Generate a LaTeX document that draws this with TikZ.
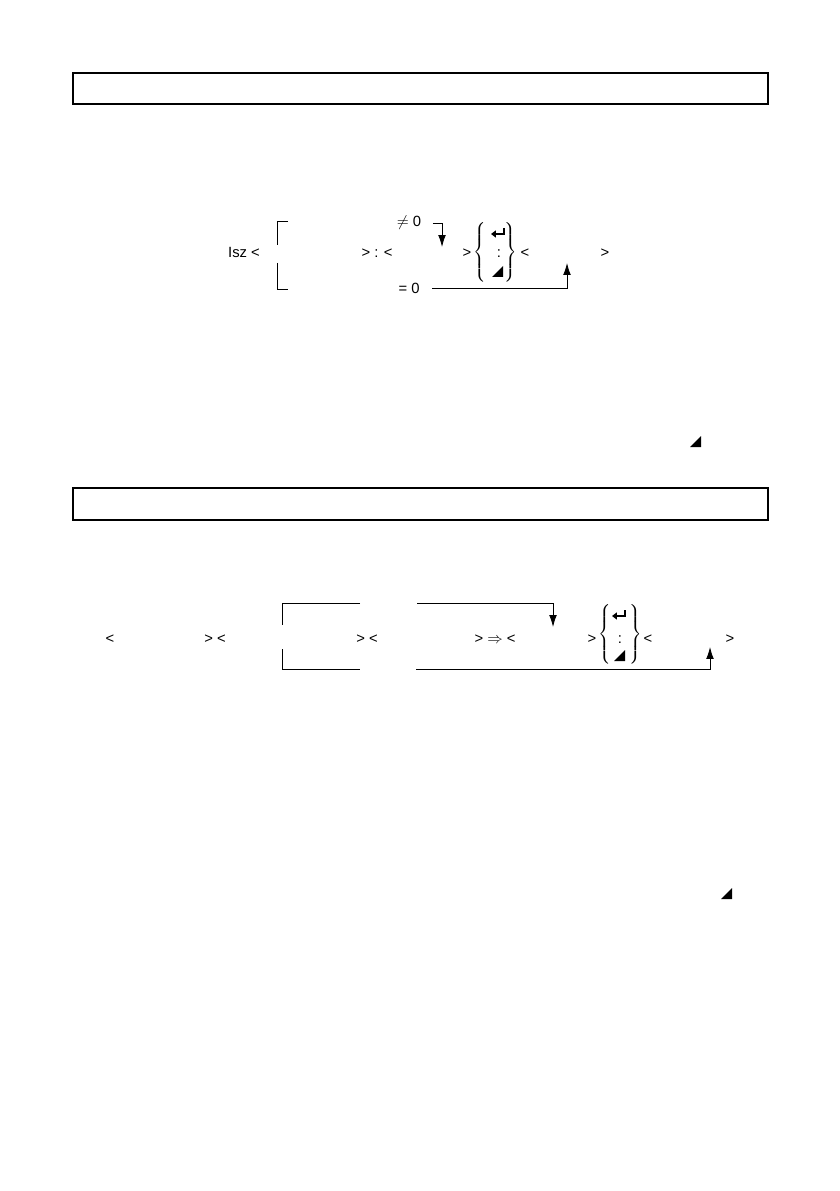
\documentclass[tikz,border=0pt]{standalone}
\usepackage{fontspec}
\setmainfont{Liberation Sans}
\usetikzlibrary{arrows.meta}

\begin{document}
\begin{tikzpicture}[x=0.709pt,y=-0.709pt]
			\tikzstyle{Word}	= [inner sep=0pt, anchor=base, font=\fontsize{10.5}{12}\selectfont]
			\tikzstyle{Brace}	= [inner sep=0pt, anchor=center]
			\tikzstyle{Frame}	= [line width=1.8pt]
			\tikzstyle{Line}	= [line width=0.6pt]
			\tikzstyle{Jump}	= [Line, -{Latex[length=8.5pt,width=5.5pt]}]
			\tikzstyle{Key}		= [line width=1.4pt, -{Triangle[length=3.5pt,width=5pt]}]

			\useasboundingbox (0,0) rectangle (839,1191);

			% title frames
			\draw [Frame] (73,73) rectangle (768,104);
			\draw [Frame] (73,488) rectangle (768,520);

			% first syntax line
			\node (isz) at (244,258) [Word] {Isz <};
			\node (ga) at (377,258) [Word] {> : <};
			\node (ne) at (409,227) [Word] {$\neq$ 0};
			\node (eq) at (409,294) [Word] {= 0};
			\node (gb) at (467,258) [Word] {>};
			\node (la) at (525,258) [Word] {<};
			\node (gc) at (605,258) [Word] {>};
			\node (lbra) at (481,252.5) [Brace] {$\left\{\rule[-19pt]{0pt}{38pt}\right.$};
			\node (rbra) at (510,252.5) [Brace] {$\left.\rule[-19pt]{0pt}{38pt}\right\}$};
			\node (cola) at (499,258) [Word] {:};
			\draw [Line] (288,221) -- (277,221) -- (277,245);
			\draw [Line] (277,263) -- (277,289) -- (288,289);
			\coordinate (nea) at (442,247);
			\coordinate (eqa) at (567,263);
			\draw [Jump] ([xshift=8pt]ne.east) -| (nea);
			\draw [Jump] ([xshift=9pt]eq.east) -| (eqa);

			% second syntax line
			\node (lb) at (110,643) [Word] {<};
			\node (gd) at (215,643) [Word] {> <};
			\node (ge) at (367,643) [Word] {> <};
			\node (gf) at (495,643) [Word] {> $\Rightarrow$ <};
			\node (gg) at (592,643) [Word] {>};
			\node (lc) at (648,643) [Word] {<};
			\node (gh) at (730,643) [Word] {>};
			\node (lbrb) at (606,634.5) [Brace] {$\left\{\rule[-19pt]{0pt}{38pt}\right.$};
			\node (rbrb) at (635,634.5) [Brace] {$\left.\rule[-19pt]{0pt}{38pt}\right\}$};
			\node (colb) at (620,643) [Word] {:};
			\draw [Line] (360,603) -- (282,603) -- (282,625);
			\draw [Line] (282,649) -- (282,669) -- (360,669);
			\coordinate (upa) at (417,603);
			\coordinate (upb) at (553,627);
			\coordinate (dna) at (416,669);
			\coordinate (dnb) at (710,647);
			\draw [Jump] (upa) -| (upb);
			\draw [Jump] (dna) -| (dnb);

			% keys: return and display
			\foreach \x/\y in {499/232, 620/614}
				\draw [Key] (\x+5,\y-4) -- (\x+5,\y+2) -- (\x-8,\y+2);
			\foreach \x/\y in {492/277, 614/661, 690/447, 721/899}
				\fill (\x,\y) -- ++(11,0) -- ++(0,-11) -- cycle;
\end{tikzpicture}
\end{document}
